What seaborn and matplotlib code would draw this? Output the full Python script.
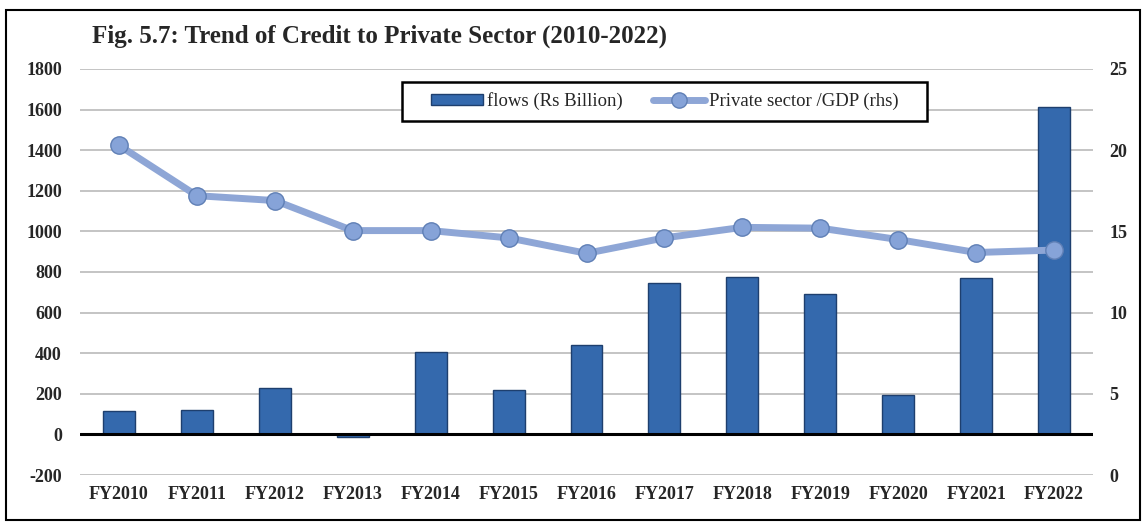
import matplotlib
matplotlib.use("Agg")
import matplotlib.pyplot as plt
import seaborn as sns
import pandas as pd
from matplotlib.patches import Rectangle
from matplotlib.lines import Line2D

years = ["FY2010", "FY2011", "FY2012", "FY2013", "FY2014", "FY2015", "FY2016",
         "FY2017", "FY2018", "FY2019", "FY2020", "FY2021", "FY2022"]
flows = [113, 118, 230, -12, 405, 220, 442, 744, 773, 690, 196, 768, 1612]
gdp_ratio = [20.3, 17.2, 16.9, 15.05, 15.05, 14.6, 13.65, 14.6, 15.25, 15.2, 14.5, 13.7, 13.85]
left_ticks = [-200, 0, 200, 400, 600, 800, 1000, 1200, 1400, 1600, 1800]
right_ticks = [0, 5, 10, 15, 20, 25]
title = "Fig. 5.7: Trend of Credit to Private Sector (2010-2022)"
bar_label = "flows (Rs Billion)"
line_label = "Private sector /GDP (rhs)"

df = pd.DataFrame({"year": years, "flows": flows, "ratio": gdp_ratio})

sns.set_theme(style="white")
plt.rcParams["font.family"] = ["Liberation Serif", "DejaVu Serif"]

W, H = 1146, 524
fig = plt.figure(figsize=(W / 100, H / 100), dpi=100)
ax = fig.add_axes([80 / W, 1 - 475 / H, (1093 - 80) / W, (475 - 69) / H])

bar_color = "#3469AD"
edge_color = "#1E3F6E"
sns.barplot(data=df, x="year", y="flows", color=bar_color, width=0.41,
            saturation=1, ax=ax, zorder=3, edgecolor=edge_color, linewidth=1.0)

ax.set_ylim(-200, 1800)
ax.set_xlim(-0.5, len(years) - 0.5)
ax.set_yticks(left_ticks)
ax.set_yticklabels([str(t) for t in left_ticks], fontsize=13, fontweight="bold")
ax.set_xticks(range(len(years)))
ax.set_xticklabels(years, fontsize=13, fontweight="bold")
ax.tick_params(axis="both", length=0)
ax.tick_params(axis="y", pad=13)
ax.tick_params(axis="x", pad=8)
ax.set_xlabel("")
ax.set_ylabel("")
ax.grid(axis="y", color="#BFBFBF", linewidth=1.3, zorder=0)
ax.set_axisbelow(True)
ax.axhline(0, color="black", linewidth=2.2, zorder=4)
for s in ax.spines.values():
    s.set_visible(False)

ax2 = ax.twinx()
line_color = "#8EA6D6"
mk_face = "#86A3D8"
mk_edge = "#5F7FB5"
sns.lineplot(data=df, x="year", y="ratio", sort=False, ax=ax2, color=line_color,
             linewidth=5, marker="o", markersize=12.5, markerfacecolor=mk_face,
             markeredgecolor=mk_edge, markeredgewidth=1.0, zorder=5)
ax2.set_ylim(0, 25)
ax2.set_yticks(right_ticks)
ax2.set_yticklabels([str(t) for t in right_ticks], fontsize=13, fontweight="bold")
ax2.tick_params(axis="y", length=0, pad=12)
ax2.set_ylabel("")
ax2.set_xlabel("")
ax2.grid(False)
for s in ax2.spines.values():
    s.set_visible(False)

# legend box drawn explicitly, legend contents centred in it
bx0, bx1, by0, by1 = 402, 927, 82, 121
box = Rectangle((bx0 / W, 1 - by1 / H), (bx1 - bx0) / W, (by1 - by0) / H,
                transform=fig.transFigure, facecolor="white", edgecolor="black",
                linewidth=1.8, zorder=20)
fig.add_artist(box)
handles = [
    Rectangle((0, 0), 1, 1, facecolor=bar_color, edgecolor=edge_color),
    Line2D([0], [0], color=line_color, linewidth=5, marker="o", markersize=11,
           markerfacecolor=mk_face, markeredgecolor=mk_edge),
]
leg = fig.legend(handles, [bar_label, line_label], loc="center",
                 bbox_to_anchor=((bx0 + bx1) / 2 / W, 1 - (by0 + by1) / 2 / H),
                 ncol=2, frameon=False, fontsize=13.5,
                 handlelength=2.8, handleheight=0.55, columnspacing=1.6,
                 handletextpad=0.2, borderpad=0.2)
leg.set_zorder(21)

fig.text(92 / W, 1 - 36 / H, title, fontsize=18, fontweight="bold",
         ha="left", va="center")

fig.add_artist(Rectangle((6 / W, 1 - 520 / H), (1140 - 6) / W, (520 - 10) / H,
                         transform=fig.transFigure, fill=False,
                         edgecolor="black", linewidth=1.5))

fig.savefig("out.png", dpi=100)
